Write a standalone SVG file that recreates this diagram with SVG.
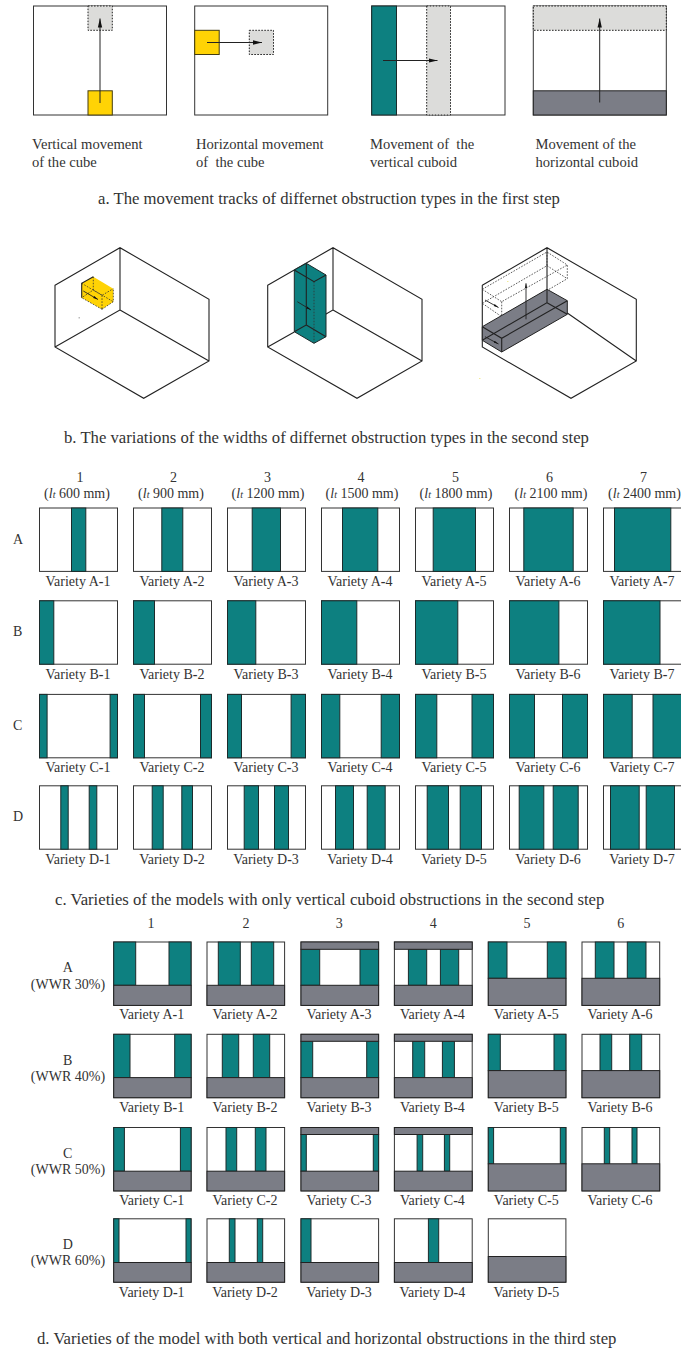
<svg xmlns="http://www.w3.org/2000/svg" width="681" height="1350" viewBox="0 0 681 1350">
<defs>
<marker id="ah" markerUnits="userSpaceOnUse" markerWidth="10" markerHeight="6" refX="9" refY="3" orient="auto"><path d="M0 0.8L9 3L0 5.2Z" fill="#111"/></marker>
<marker id="ah2" markerUnits="userSpaceOnUse" markerWidth="6" markerHeight="4" refX="5" refY="2" orient="auto"><path d="M0 0.9L5 2L0 3.1Z" fill="#111"/></marker>
</defs>
<style>
text{font-family:"Liberation Serif","Times New Roman",serif;fill:#333;font-size:14px}
.cap{font-size:16.7px}
.n{font-size:14.6px}
.m{text-anchor:middle}
.fr{fill:#fff;stroke:#333;stroke-width:1}
.t{fill:#0d8080;stroke:#1c2b2b;stroke-width:1}
.g{fill:#7b7d86;stroke:#222;stroke-width:1}
.y{fill:#ffd305;stroke:#443c10;stroke-width:1}
.gh{fill:#dcdcda;stroke:#222;stroke-width:1;stroke-dasharray:1.6 1.4}
.l{fill:none;stroke:#222;stroke-width:1.1}
.d{fill:none;stroke:#333;stroke-width:.8;stroke-dasharray:1.6 1.4}
.a{fill:none;stroke:#222;stroke-width:1;marker-end:url(#ah)}
.a2{fill:none;stroke:#222;stroke-width:.9;marker-end:url(#ah2)}
.h{font-weight:700}
.i{font-style:italic}
.s{font-style:italic;font-size:10px}
</style>

<g id="a1"><rect class="fr" x="33.5" y="6" width="133" height="109"/><rect class="y" x="88" y="90.8" width="24.3" height="24.2"/><rect class="gh" x="88" y="6" width="24.3" height="24.3"/>
<text class="n" x="32" y="149">Vertical movement</text><text class="n" x="32" y="166.5">of the cube</text></g>
<g id="a2"><rect class="fr" x="194.7" y="6" width="133" height="109"/><rect class="y" x="194.7" y="30.3" width="24.5" height="24.2"/><rect class="gh" x="249.3" y="30.3" width="24.2" height="24.2"/>
<text class="n" x="196" y="149">Horizontal movement</text><text class="n" x="196" y="166.5" xml:space="preserve">of  the cube</text></g>
<g id="a3"><rect class="fr" x="371.7" y="6" width="133.3" height="109"/><rect class="t" x="371.7" y="6" width="24.8" height="109"/><rect class="gh" x="426.7" y="6" width="23.8" height="109"/>
<text class="n" x="370" y="149" xml:space="preserve">Movement of  the</text><text class="n" x="370" y="166.5">vertical cuboid</text></g>
<g id="a4"><rect class="fr" x="533.3" y="6" width="133" height="109"/><rect class="gh" x="533.3" y="6" width="133" height="24.3"/><rect class="g" x="533.3" y="90.8" width="133" height="24.2"/>
<text class="n" x="535.5" y="149">Movement of the</text><text class="n" x="535.5" y="166.5">horizontal cuboid</text></g>
<text id="cap-a" class="cap" x="98" y="204">a. The movement tracks of differnet obstruction types in the first step</text>

<g id="b1"><path class="l" d="M55 285.3L120 247.7L209 299.3V361L143.7 398.3L55 347ZM120 247.7V310L55 347M120 310L209 361"/>
<path d="M81.7 283.3L93.3 276.7L113.3 288.7V301.7L102 309.3L81.7 297.7Z" fill="#ffd305"/>
<path class="d" d="M81.7 283.3L102 295.3L113.3 288.7M102 295.3V309.3M93.3 276.7V290L81.7 297.7M93.3 290L113.3 301.7M102 309.3L113.3 301.7V288.7M102 309.3L81.7 297.7"/>
<path class="l" d="M81.7 297.7V283.3L93.3 276.7"/></g>
<g id="b2"><path class="l" d="M267.7 285.3L333 247.7L422 299.3V361L357 398.3L267.7 347ZM333 247.7V310L314 321M267.7 347L294.3 332M333 310L422 361"/>
<path d="M294.3 270L306.3 263.3L326 275V336.7L314 343.3L294.3 331.7Z" fill="#0d8080" stroke="#1c2b2b"/>
<path class="l" d="M294.3 270L314 281.7L326 275M306.3 263.3V325L294.3 331.7M306.3 325L326 336.7"/>
<path class="d" d="M314 281.7V343.3"/></g>
<g id="b3"><path class="l" d="M482.3 285.3L547 247.7L636.3 299.3V361L571 398.3L482.3 347ZM547 247.7V290M482.3 285.3V347M567.3 313L636.3 361"/>
<path class="d" d="M482.3 289.3L547 252L567.3 265V278.7L501.7 316.7L482.3 303.3M482.3 289.3L501.7 301.7L567.3 265M501.7 301.7V316.7M547 252V265.7L482.3 303.3M547 265.7L567.3 278.7"/>
<path d="M482.3 326.7L547 289.3L567.3 300.7V314.3L501.7 352L482.3 340.3Z" fill="#7b7d86" stroke="#222"/>
<path class="l" d="M482.3 326.7L501.7 338.3L567.3 300.7M501.7 338.3V352M482.3 340.3L547 302.7V289.3M547 302.7L567.3 314.3"/></g>
<text id="cap-b" class="cap" x="64" y="443">b. The variations of the widths of differnet obstruction types in the second step</text>
<g id="specks"><rect x="78.5" y="317" width="1.5" height="1.5" fill="#bbb"/><rect x="507" y="281" width="1.5" height="1" fill="#f3ec9a"/><rect x="479" y="378" width="1.5" height="1" fill="#f3ec9a"/></g>

<g id="connectors">
<path class="a" d="M100 103V18.5"/><path class="a" d="M207 42.5H262"/><path class="a" d="M383 60.5H437.5"/><path class="a" d="M599.7 102.5V18.5"/>
<path class="a2" d="M83.3 291L98 299.5"/><path class="a2" d="M297.3 301.7L311 310"/><path class="a2" d="M526 319.3V283.3"/><path class="a2" d="M485 300L498.5 307.5"/><path class="a2" d="M485 336.7L498.5 344"/>
</g>

<g id="c-heads">
<text class="m" x="80" y="481.7">1</text><text class="m" x="77" y="498">(<tspan class="i">l</tspan><tspan class="s">t</tspan> 600 mm)</text>
<text class="m" x="173.5" y="481.7">2</text><text class="m" x="171" y="498">(<tspan class="i">l</tspan><tspan class="s">t</tspan> 900 mm)</text>
<text class="m" x="267.5" y="481.7">3</text><text class="m" x="268" y="498">(<tspan class="i">l</tspan><tspan class="s">t</tspan> 1200 mm)</text>
<text class="m" x="361" y="481.7">4</text><text class="m" x="362" y="498">(<tspan class="i">l</tspan><tspan class="s">t</tspan> 1500 mm)</text>
<text class="m" x="455.5" y="481.7">5</text><text class="m" x="456" y="498">(<tspan class="i">l</tspan><tspan class="s">t</tspan> 1800 mm)</text>
<text class="m" x="549.5" y="481.7">6</text><text class="m" x="551" y="498">(<tspan class="i">l</tspan><tspan class="s">t</tspan> 2100 mm)</text>
<text class="m" x="643.5" y="481.7">7</text><text class="m" x="644.5" y="498">(<tspan class="i">l</tspan><tspan class="s">t</tspan> 2400 mm)</text>
<text x="13" y="544">A</text><text x="13" y="636">B</text><text x="13" y="730">C</text><text x="13" y="821">D</text>
</g>

<g id="cA1" transform="translate(39.5 508)"><rect class="fr" width="78" height="63.4"/><rect class="t" x="32" width="14.3" height="63.4"/><text class="m" x="38.5" y="78">Variety A<tspan class="h">-</tspan>1</text></g>
<g id="cA2" transform="translate(133.5 508)"><rect class="fr" width="78" height="63.4"/><rect class="t" x="28.3" width="21" height="63.4"/><text class="m" x="38.5" y="78">Variety A<tspan class="h">-</tspan>2</text></g>
<g id="cA3" transform="translate(227.5 508)"><rect class="fr" width="78" height="63.4"/><rect class="t" x="24.7" width="28.3" height="63.4"/><text class="m" x="38.5" y="78">Variety A<tspan class="h">-</tspan>3</text></g>
<g id="cA4" transform="translate(321.5 508)"><rect class="fr" width="78" height="63.4"/><rect class="t" x="21" width="35.3" height="63.4"/><text class="m" x="38.5" y="78">Variety A<tspan class="h">-</tspan>4</text></g>
<g id="cA5" transform="translate(415.5 508)"><rect class="fr" width="78" height="63.4"/><rect class="t" x="17.7" width="42.3" height="63.4"/><text class="m" x="38.5" y="78">Variety A<tspan class="h">-</tspan>5</text></g>
<g id="cA6" transform="translate(509.5 508)"><rect class="fr" width="78" height="63.4"/><rect class="t" x="14.3" width="49.4" height="63.4"/><text class="m" x="38.5" y="78">Variety A<tspan class="h">-</tspan>6</text></g>
<g id="cA7" transform="translate(603.5 508)"><rect class="fr" width="78" height="63.4"/><rect class="t" x="11" width="56.3" height="63.4"/><text class="m" x="38.5" y="78">Variety A<tspan class="h">-</tspan>7</text></g>

<g id="cB1" transform="translate(39.5 600.8)"><rect class="fr" width="78" height="63.4"/><rect class="t" width="14.3" height="63.4"/><text class="m" x="38.5" y="78">Variety B<tspan class="h">-</tspan>1</text></g>
<g id="cB2" transform="translate(133.5 600.8)"><rect class="fr" width="78" height="63.4"/><rect class="t" width="21" height="63.4"/><text class="m" x="38.5" y="78">Variety B<tspan class="h">-</tspan>2</text></g>
<g id="cB3" transform="translate(227.5 600.8)"><rect class="fr" width="78" height="63.4"/><rect class="t" width="28.3" height="63.4"/><text class="m" x="38.5" y="78">Variety B<tspan class="h">-</tspan>3</text></g>
<g id="cB4" transform="translate(321.5 600.8)"><rect class="fr" width="78" height="63.4"/><rect class="t" width="35.3" height="63.4"/><text class="m" x="38.5" y="78">Variety B<tspan class="h">-</tspan>4</text></g>
<g id="cB5" transform="translate(415.5 600.8)"><rect class="fr" width="78" height="63.4"/><rect class="t" width="42.3" height="63.4"/><text class="m" x="38.5" y="78">Variety B<tspan class="h">-</tspan>5</text></g>
<g id="cB6" transform="translate(509.5 600.8)"><rect class="fr" width="78" height="63.4"/><rect class="t" width="49.4" height="63.4"/><text class="m" x="38.5" y="78">Variety B<tspan class="h">-</tspan>6</text></g>
<g id="cB7" transform="translate(603.5 600.8)"><rect class="fr" width="78" height="63.4"/><rect class="t" width="56.5" height="63.4"/><text class="m" x="38.5" y="78">Variety B<tspan class="h">-</tspan>7</text></g>

<g id="cC1" transform="translate(39.5 694.4)"><rect class="fr" width="78" height="63.4"/><rect class="t" width="7.6" height="63.4"/><rect class="t" x="70.6" width="7.4" height="63.4"/><text class="m" x="38.5" y="78">Variety C<tspan class="h">-</tspan>1</text></g>
<g id="cC2" transform="translate(133.5 694.4)"><rect class="fr" width="78" height="63.4"/><rect class="t" width="11" height="63.4"/><rect class="t" x="67" width="11" height="63.4"/><text class="m" x="38.5" y="78">Variety C<tspan class="h">-</tspan>2</text></g>
<g id="cC3" transform="translate(227.5 694.4)"><rect class="fr" width="78" height="63.4"/><rect class="t" width="14" height="63.4"/><rect class="t" x="63.6" width="14.4" height="63.4"/><text class="m" x="38.5" y="78">Variety C<tspan class="h">-</tspan>3</text></g>
<g id="cC4" transform="translate(321.5 694.4)"><rect class="fr" width="78" height="63.4"/><rect class="t" width="18.3" height="63.4"/><rect class="t" x="59.7" width="18.3" height="63.4"/><text class="m" x="38.5" y="78">Variety C<tspan class="h">-</tspan>4</text></g>
<g id="cC5" transform="translate(415.5 694.4)"><rect class="fr" width="78" height="63.4"/><rect class="t" width="21.3" height="63.4"/><rect class="t" x="56.5" width="21.5" height="63.4"/><text class="m" x="38.5" y="78">Variety C<tspan class="h">-</tspan>5</text></g>
<g id="cC6" transform="translate(509.5 694.4)"><rect class="fr" width="78" height="63.4"/><rect class="t" width="25" height="63.4"/><rect class="t" x="53" width="25" height="63.4"/><text class="m" x="38.5" y="78">Variety C<tspan class="h">-</tspan>6</text></g>
<g id="cC7" transform="translate(603.5 694.4)"><rect class="fr" width="78" height="63.4"/><rect class="t" width="28.7" height="63.4"/><rect class="t" x="49.5" width="28.5" height="63.4"/><text class="m" x="38.5" y="78">Variety C<tspan class="h">-</tspan>7</text></g>

<g id="cD1" transform="translate(39.5 785.8)"><rect class="fr" width="78" height="63.4"/><rect class="t" x="21.3" width="7.4" height="63.4"/><rect class="t" x="49.7" width="7.6" height="63.4"/><text class="m" x="38.5" y="78">Variety D<tspan class="h">-</tspan>1</text></g>
<g id="cD2" transform="translate(133.5 785.8)"><rect class="fr" width="78" height="63.4"/><rect class="t" x="18.7" width="11" height="63.4"/><rect class="t" x="48.3" width="10.7" height="63.4"/><text class="m" x="38.5" y="78">Variety D<tspan class="h">-</tspan>2</text></g>
<g id="cD3" transform="translate(227.5 785.8)"><rect class="fr" width="78" height="63.4"/><rect class="t" x="16.7" width="14.3" height="63.4"/><rect class="t" x="47" width="14" height="63.4"/><text class="m" x="38.5" y="78">Variety D<tspan class="h">-</tspan>3</text></g>
<g id="cD4" transform="translate(321.5 785.8)"><rect class="fr" width="78" height="63.4"/><rect class="t" x="14" width="18" height="63.4"/><rect class="t" x="45.7" width="18" height="63.4"/><text class="m" x="38.5" y="78">Variety D<tspan class="h">-</tspan>4</text></g>
<g id="cD5" transform="translate(415.5 785.8)"><rect class="fr" width="78" height="63.4"/><rect class="t" x="11.7" width="21.3" height="63.4"/><rect class="t" x="44.7" width="21.3" height="63.4"/><text class="m" x="38.5" y="78">Variety D<tspan class="h">-</tspan>5</text></g>
<g id="cD6" transform="translate(509.5 785.8)"><rect class="fr" width="78" height="63.4"/><rect class="t" x="9.7" width="24.6" height="63.4"/><rect class="t" x="43.7" width="25" height="63.4"/><text class="m" x="38.5" y="78">Variety D<tspan class="h">-</tspan>6</text></g>
<g id="cD7" transform="translate(603.5 785.8)"><rect class="fr" width="78" height="63.4"/><rect class="t" x="7" width="28.7" height="63.4"/><rect class="t" x="42.7" width="28.3" height="63.4"/><text class="m" x="38.5" y="78">Variety D<tspan class="h">-</tspan>7</text></g>
<text id="cap-c" class="cap" x="55" y="905">c. Varieties of the models with only vertical cuboid obstructions in the second step</text>

<g id="d-heads">
<text class="m" x="151" y="928.3">1</text><text class="m" x="246" y="928.3">2</text><text class="m" x="339.3" y="928.3">3</text><text class="m" x="433.3" y="928.3">4</text><text class="m" x="527" y="928.3">5</text><text class="m" x="620.7" y="928.3">6</text>
<text class="m" x="67.7" y="972.3">A</text><text class="m" x="68" y="989">(WWR 30%)</text>
<text class="m" x="67.7" y="1064.7">B</text><text class="m" x="68" y="1081.3">(WWR 40%)</text>
<text class="m" x="67.7" y="1158.3">C</text><text class="m" x="68" y="1174.3">(WWR 50%)</text>
<text class="m" x="67.7" y="1249.3">D</text><text class="m" x="68" y="1265.3">(WWR 60%)</text>
</g>

<g id="dA1" transform="translate(113.7 942)"><rect class="fr" width="77.4" height="63.4"/><rect class="t" width="22" height="43.3"/><rect class="t" x="55.3" width="22" height="43.3"/><rect class="g" y="43.3" width="77.4" height="20.1"/><text class="m" x="38" y="77.3">Variety A<tspan class="h">-</tspan>1</text></g>
<g id="dA2" transform="translate(207 942)"><rect class="fr" width="77.6" height="63.4"/><rect class="t" x="11.3" width="22" height="43.3"/><rect class="t" x="44.3" width="22.4" height="43.3"/><rect class="g" y="43.3" width="77.6" height="20.1"/><text class="m" x="38" y="77.3">Variety A<tspan class="h">-</tspan>2</text></g>
<g id="dA3" transform="translate(301 942)"><rect class="fr" width="77.6" height="63.4"/><rect class="t" y="7.3" width="18.7" height="36"/><rect class="t" x="59" y="7.3" width="18.6" height="36"/><rect class="g" width="77.6" height="7.3"/><rect class="g" y="43.3" width="77.6" height="20.1"/><text class="m" x="38" y="77.3">Variety A<tspan class="h">-</tspan>3</text></g>
<g id="dA4" transform="translate(394.4 942)"><rect class="fr" width="77.8" height="63.4"/><rect class="t" x="14" y="7.3" width="18.3" height="36"/><rect class="t" x="46" y="7.3" width="18.3" height="36"/><rect class="g" width="77.8" height="7.3"/><rect class="g" y="43.3" width="77.8" height="20.1"/><text class="m" x="38" y="77.3">Variety A<tspan class="h">-</tspan>4</text></g>
<g id="dA5" transform="translate(488.3 942)"><rect class="fr" width="77.6" height="63.4"/><rect class="t" width="18.7" height="36.3"/><rect class="t" x="59" width="18.6" height="36.3"/><rect class="g" y="36.3" width="77.6" height="27.1"/><text class="m" x="38" y="77.3">Variety A<tspan class="h">-</tspan>5</text></g>
<g id="dA6" transform="translate(582 942)"><rect class="fr" width="77.7" height="63.4"/><rect class="t" x="13.3" width="18.7" height="36.3"/><rect class="t" x="45.3" width="18.7" height="36.3"/><rect class="g" y="36.3" width="77.7" height="27.1"/><text class="m" x="38" y="77.3">Variety A<tspan class="h">-</tspan>6</text></g>

<g id="dB1" transform="translate(113.7 1034.3)"><rect class="fr" width="77.4" height="63.4"/><rect class="t" width="16.3" height="43.3"/><rect class="t" x="61" width="16.4" height="43.3"/><rect class="g" y="43.3" width="77.4" height="20.1"/><text class="m" x="38" y="77.3">Variety B<tspan class="h">-</tspan>1</text></g>
<g id="dB2" transform="translate(207 1034.3)"><rect class="fr" width="77.6" height="63.4"/><rect class="t" x="15.3" width="16.4" height="43.3"/><rect class="t" x="46.3" width="16.4" height="43.3"/><rect class="g" y="43.3" width="77.6" height="20.1"/><text class="m" x="38" y="77.3">Variety B<tspan class="h">-</tspan>2</text></g>
<g id="dB3" transform="translate(301 1034.3)"><rect class="fr" width="77.6" height="63.4"/><rect class="t" y="7" width="11.7" height="36.3"/><rect class="t" x="65.7" y="7" width="11.9" height="36.3"/><rect class="g" width="77.6" height="7"/><rect class="g" y="43.3" width="77.6" height="20.1"/><text class="m" x="38" y="77.3">Variety B<tspan class="h">-</tspan>3</text></g>
<g id="dB4" transform="translate(394.4 1034.3)"><rect class="fr" width="77.8" height="63.4"/><rect class="t" x="18.3" y="7" width="12" height="36.3"/><rect class="t" x="48" y="7" width="12" height="36.3"/><rect class="g" width="77.8" height="7"/><rect class="g" y="43.3" width="77.8" height="20.1"/><text class="m" x="38" y="77.3">Variety B<tspan class="h">-</tspan>4</text></g>
<g id="dB5" transform="translate(488.3 1034.3)"><rect class="fr" width="77.6" height="63.4"/><rect class="t" width="12" height="36.3"/><rect class="t" x="65.7" width="11.9" height="36.3"/><rect class="g" y="36.3" width="77.6" height="27.1"/><text class="m" x="38" y="77.3">Variety B<tspan class="h">-</tspan>5</text></g>
<g id="dB6" transform="translate(582 1034.3)"><rect class="fr" width="77.7" height="63.4"/><rect class="t" x="18" width="11.7" height="36.3"/><rect class="t" x="47.7" width="12" height="36.3"/><rect class="g" y="36.3" width="77.7" height="27.1"/><text class="m" x="38" y="77.3">Variety B<tspan class="h">-</tspan>6</text></g>

<g id="dC1" transform="translate(113.7 1127.5)"><rect class="fr" width="77.4" height="63.4"/><rect class="t" width="10.7" height="43.7"/><rect class="t" x="66.7" width="10.7" height="43.7"/><rect class="g" y="43.7" width="77.4" height="19.7"/><text class="m" x="38" y="77.5">Variety C<tspan class="h">-</tspan>1</text></g>
<g id="dC2" transform="translate(207 1127.5)"><rect class="fr" width="77.6" height="63.4"/><rect class="t" x="19" width="10.7" height="43.7"/><rect class="t" x="48.3" width="10.7" height="43.7"/><rect class="g" y="43.7" width="77.6" height="19.7"/><text class="m" x="38" y="77.5">Variety C<tspan class="h">-</tspan>2</text></g>
<g id="dC3" transform="translate(301 1127.5)"><rect class="fr" width="77.6" height="63.4"/><rect class="t" y="7" width="5.3" height="36.7"/><rect class="t" x="72.3" y="7" width="5.3" height="36.7"/><rect class="g" width="77.6" height="7"/><rect class="g" y="43.7" width="77.6" height="19.7"/><text class="m" x="38" y="77.5">Variety C<tspan class="h">-</tspan>3</text></g>
<g id="dC4" transform="translate(394.4 1127.5)"><rect class="fr" width="77.8" height="63.4"/><rect class="t" x="22.7" y="7" width="5.6" height="36.7"/><rect class="t" x="50" y="7" width="5.3" height="36.7"/><rect class="g" width="77.8" height="7"/><rect class="g" y="43.7" width="77.8" height="19.7"/><text class="m" x="38" y="77.5">Variety C<tspan class="h">-</tspan>4</text></g>
<g id="dC5" transform="translate(488.3 1127.5)"><rect class="fr" width="77.6" height="63.4"/><rect class="t" width="5.3" height="36.3"/><rect class="t" x="72" width="5.6" height="36.3"/><rect class="g" y="36.3" width="77.6" height="27.1"/><text class="m" x="38" y="77.5">Variety C<tspan class="h">-</tspan>5</text></g>
<g id="dC6" transform="translate(582 1127.5)"><rect class="fr" width="77.7" height="63.4"/><rect class="t" x="22.3" width="5.4" height="36.3"/><rect class="t" x="50" width="5" height="36.3"/><rect class="g" y="36.3" width="77.7" height="27.1"/><text class="m" x="38" y="77.5">Variety C<tspan class="h">-</tspan>6</text></g>

<g id="dD1" transform="translate(113.7 1218.8)"><rect class="fr" width="77.4" height="63.4"/><rect class="t" width="5.3" height="43.7"/><rect class="t" x="72.3" width="5" height="43.7"/><rect class="g" y="43.7" width="77.4" height="19.7"/><text class="m" x="38" y="77.9">Variety D<tspan class="h">-</tspan>1</text></g>
<g id="dD2" transform="translate(207 1218.8)"><rect class="fr" width="77.6" height="63.4"/><rect class="t" x="22.3" width="5.7" height="43.7"/><rect class="t" x="50.3" width="5.4" height="43.7"/><rect class="g" y="43.7" width="77.6" height="19.7"/><text class="m" x="38" y="77.9">Variety D<tspan class="h">-</tspan>2</text></g>
<g id="dD3" transform="translate(301 1218.8)"><rect class="fr" width="77.6" height="63.4"/><rect class="t" width="10" height="43.7"/><rect class="g" y="43.7" width="77.6" height="19.7"/><text class="m" x="38" y="77.9">Variety D<tspan class="h">-</tspan>3</text></g>
<g id="dD4" transform="translate(394.4 1218.8)"><rect class="fr" width="77.8" height="63.4"/><rect class="t" x="34" width="10.3" height="43.7"/><rect class="g" y="43.7" width="77.8" height="19.7"/><text class="m" x="38" y="77.9">Variety D<tspan class="h">-</tspan>4</text></g>
<g id="dD5" transform="translate(488.3 1218.8)"><rect class="fr" width="77.6" height="63.4"/><rect class="g" y="37.7" width="77.6" height="25.7"/><text class="m" x="38" y="77.9">Variety D<tspan class="h">-</tspan>5</text></g>
<text id="cap-d" class="cap" x="37" y="1344">d. Varieties of the model with both vertical and horizontal obstructions in the third step</text>
</svg>
